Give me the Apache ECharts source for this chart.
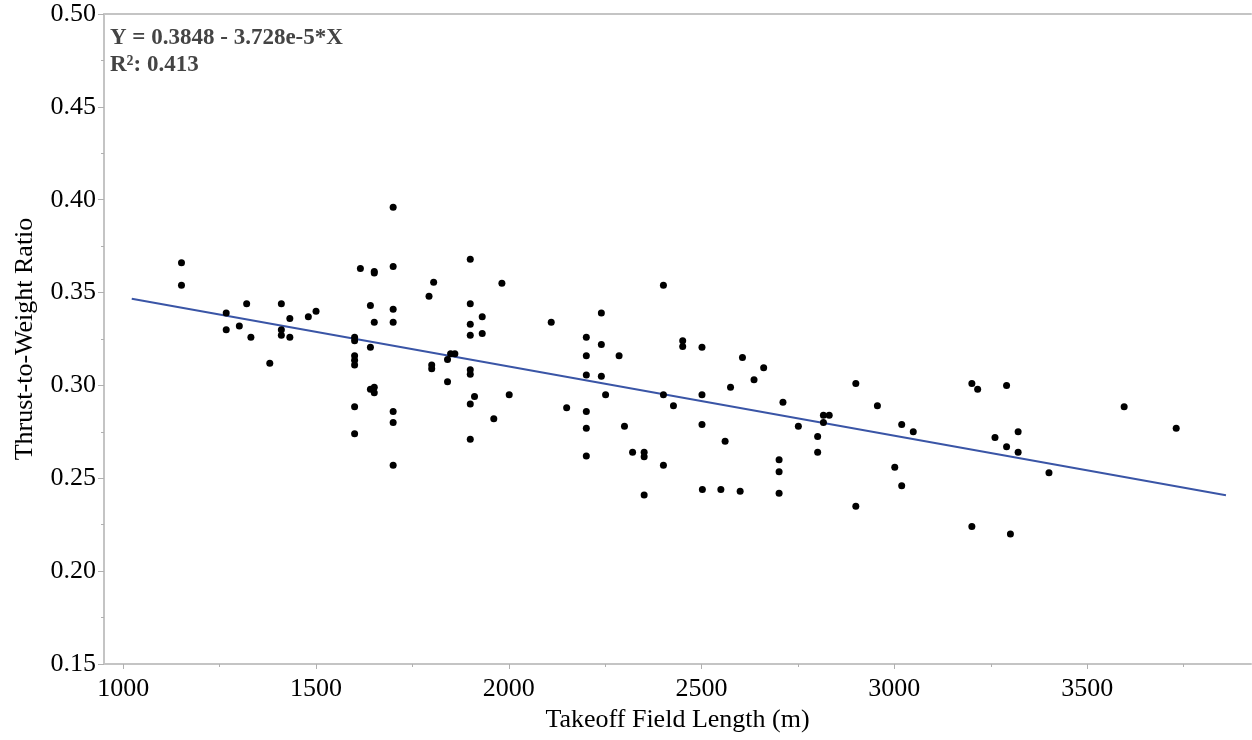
<!DOCTYPE html>
<html>
<head>
<meta charset="utf-8">
<script src="https://cdn.jsdelivr.net/npm/echarts@6/dist/echarts.min.js"></script>
<style>
html,body{margin:0;padding:0;background:#fff;}
#chart{width:1252px;height:740px;}
</style>
</head>
<body>
<div id="chart"></div>
<script>
// Takeoff field length (m)
const fieldLength = [
  1151,1151,1267,1267,1320,1301,1331,1380,1410,1410,1410,1432,1432,1480,1500,
  1600,1600,1600,1600,1600,1600,1600,1615,1641,1641,1651,1651,1651,1641,1651,1651,
  1700,1700,1700,1700,1700,1700,1700,
  1900,1805,1793,1982,1900,1931,1900,1900,1931,2110,1849,1860,1841,1800,1800,1841,
  1900,1900,1911,1900,2001,1961,1900,2240,2201,2240,2201,2286,2201,2240,2251,2150,
  2201,2201,2300,2201,2321,2351,2351,2401,2451,2451,2501,2401,2427,2501,2501,2401,2351,
  2606,2661,2636,2575,2711,2561,2751,2816,2831,2816,2801,2801,2701,2701,2701,
  2502,2550,2600,2900,2956,3019,3049,3001,3019,2900,3201,3216,3261,3201,
  3291,3321,3291,3321,3401,3301,3596,3731
];
// Thrust-to-weight ratio
const thrustWeight = [
  0.366,0.354,0.339,0.330,0.344,0.332,0.326,0.312,0.344,0.330,0.327,0.336,0.326,0.337,0.340,
  0.326,0.324,0.316,0.3135,0.311,0.2885,0.274,0.363,0.343,0.3205,0.3614,0.3605,0.334,0.298,0.299,0.296,
  0.364,0.341,0.334,0.286,0.280,0.257,0.396,
  0.368,0.3555,0.348,0.355,0.344,0.337,0.333,0.327,0.328,0.334,0.317,0.317,0.314,0.311,0.309,0.302,
  0.3085,0.306,0.294,0.290,0.295,0.282,0.271,0.339,0.326,0.322,0.316,0.316,0.3056,0.305,0.295,0.288,
  0.286,0.277,0.278,0.262,0.264,0.264,0.2616,0.354,0.324,0.321,0.3205,0.295,0.289,0.295,0.279,0.257,0.241,
  0.315,0.3095,0.303,0.299,0.291,0.270,0.278,0.284,0.284,0.280,0.2725,0.264,0.260,0.2535,0.242,
  0.244,0.244,0.243,0.301,0.289,0.279,0.275,0.256,0.246,0.235,0.301,0.298,0.272,0.224,
  0.300,0.275,0.267,0.264,0.253,0.220,0.2885,0.277
];
// Fit line: Y = 0.3848 - 3.728e-5*X
const fitIntercept = 0.3848;
const fitSlope = -3.728e-5;
const fitX = [1022, 3860];
const xTicks = [1000, 1500, 2000, 2500, 3000, 3500];
const xMinorTicks = [1250, 1750, 2250, 2750, 3250, 3750];
const annotationLines = ['Y = 0.3848 - 3.728e-5*X', 'R\u00b2: 0.413'];

const FONT = '"Liberation Serif", "Times New Roman", serif';
const AXIS_COLOR = '#c4c4c4';

const points = fieldLength.map((x, i) => [x, thrustWeight[i]]);
const fitLine = fitX.map(x => [x, fitIntercept + fitSlope * x]);

const chart = echarts.init(document.getElementById('chart'), null, {renderer: 'canvas'});
chart.setOption({
  animation: false,
  backgroundColor: '#fff',
  grid: {left: 104, right: 1, top: 14, bottom: 76, containLabel: false, outerBoundsMode: 'none'},
  xAxis: [
    {
      type: 'value', min: 950, max: 3925, position: 'bottom',
      name: 'Takeoff Field Length (m)', nameLocation: 'middle', nameGap: 42,
      nameTextStyle: {fontFamily: FONT, fontSize: 26, color: '#000'},
      axisLine: {show: true, lineStyle: {color: AXIS_COLOR, width: 2}},
      axisTick: {show: true, length: 5, customValues: xTicks, lineStyle: {color: '#b0b0b0', width: 1}},
      axisLabel: {customValues: xTicks, margin: 12, fontFamily: FONT, fontSize: 26, color: '#000',
        formatter: v => String(v)},
      splitLine: {show: false}
    },
    {
      type: 'value', min: 950, max: 3925, position: 'bottom',
      axisLine: {show: false},
      axisTick: {show: true, length: 3, customValues: xMinorTicks, lineStyle: {color: '#b0b0b0', width: 1}},
      axisLabel: {show: false},
      splitLine: {show: false}
    },
    {
      type: 'value', min: 950, max: 3925, position: 'top',
      axisLine: {show: true, lineStyle: {color: AXIS_COLOR, width: 2}},
      axisTick: {show: false}, axisLabel: {show: false}, splitLine: {show: false}
    }
  ],
  yAxis: {
    type: 'value', min: 0.15, max: 0.50, interval: 0.05,
    name: 'Thrust-to-Weight Ratio', nameLocation: 'middle', nameGap: 66,
    nameTextStyle: {fontFamily: FONT, fontSize: 26, color: '#000'},
    axisLine: {show: true, lineStyle: {color: AXIS_COLOR, width: 2}},
    axisTick: {show: true, length: 6, lineStyle: {color: '#b0b0b0', width: 1}},
    minorTick: {show: true, splitNumber: 2, length: 3, lineStyle: {color: '#b0b0b0', width: 1}},
    axisLabel: {margin: 8, fontFamily: FONT, fontSize: 26, color: '#000',
      formatter: v => v.toFixed(2)},
    splitLine: {show: false}
  },
  graphic: annotationLines.map((t, i) => ({
    type: 'text', left: 110, top: 27 + i * 27, z: 100,
    style: {text: t, fontFamily: FONT, fontSize: 23, fontWeight: 'bold', fill: '#444'}
  })),
  series: [
    {
      type: 'line', data: fitLine, xAxisIndex: 0, showSymbol: false, symbol: 'none',
      lineStyle: {color: '#3a55a6', width: 2}, z: 2, silent: true
    },
    {
      type: 'scatter', data: points, xAxisIndex: 0, symbol: 'circle', symbolSize: 7,
      itemStyle: {color: '#000', opacity: 1}, z: 3
    }
  ]
});
</script>
</body>
</html>
